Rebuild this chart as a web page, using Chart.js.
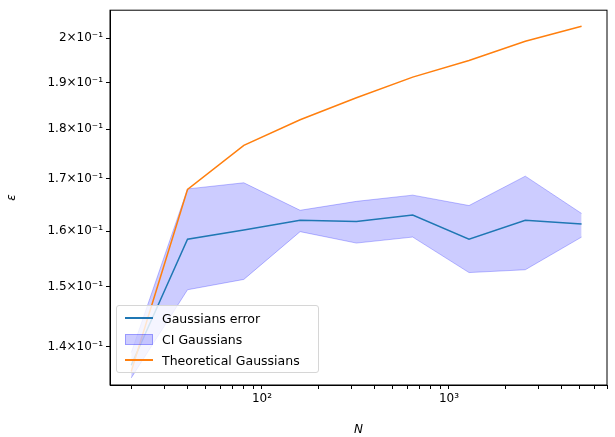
<!DOCTYPE html>
<html><head><meta charset="utf-8">
<script src="https://cdn.jsdelivr.net/npm/chart.js@4"></script>
<style>
body{margin:0;background:#fff;font-family:"DejaVu Sans";}
#wrap{position:relative;width:615px;height:437px;}
#leg{position:absolute;left:116px;top:305px;width:201px;height:66px;border:1px solid #d6d6d6;border-radius:3px;background:rgba(255,255,255,0.8);font-size:12.5px;color:#000;}
.row{position:absolute;left:8px;height:18px;display:flex;align-items:center;}
.sw{width:28px;margin-right:9px;}
</style></head><body>
<div id="wrap"><canvas id="c" width="615" height="437"></canvas>
<div id="leg">
<div class="row" style="top:3px"><div class="sw" style="border-top:2px solid #1f77b4"></div>Gaussians error</div>
<div class="row" style="top:24px"><div class="sw" style="height:9px;background:rgba(0,0,255,0.2);border:1px solid rgba(0,0,255,0.25);width:26px"></div>CI Gaussians</div>
<div class="row" style="top:45px"><div class="sw" style="border-top:2px solid #ff7f0e"></div>Theoretical Gaussians</div>
</div></div>
<script>
const N=[20,40,80,160,320,640,1280,2560,5120];
const errG=[0.137,0.1585,0.1602,0.162,0.1618,0.163,0.1585,0.162,0.1613];
const ciUp=[0.139,0.168,0.1692,0.1639,0.1656,0.1668,0.1648,0.1705,0.1633];
const ciLo=[0.135,0.1495,0.1513,0.1599,0.1578,0.1589,0.1525,0.153,0.1589];
const theo=[0.136,0.1679,0.1767,0.182,0.1867,0.1912,0.1949,0.1993,0.2028];
const yTicks=[0.14,0.15,0.16,0.17,0.18,0.19,0.2];
const yLabels=["1.4×10⁻¹","1.5×10⁻¹","1.6×10⁻¹","1.7×10⁻¹","1.8×10⁻¹","1.9×10⁻¹","2×10⁻¹"];
const xMinor=[20,30,40,50,60,70,80,90,100,200,300,400,500,600,700,800,900,1000,2000,3000,4000,5000,6000,7000];
const pts=a=>a.map((v,i)=>({x:N[i],y:v}));
new Chart(document.getElementById('c'),{type:'line',
data:{datasets:[
{label:'lo',data:pts(ciLo),borderColor:'rgba(0,0,255,0.25)',borderWidth:1,pointRadius:0,fill:false,order:3},
{label:'CI Gaussians',data:pts(ciUp),borderColor:'rgba(0,0,255,0.25)',borderWidth:1,backgroundColor:'rgba(0,0,255,0.2)',pointRadius:0,fill:'-1',order:3},
{label:'Gaussians error',data:pts(errG),borderColor:'#1f77b4',borderWidth:1.5,pointRadius:0,order:2},
{label:'Theoretical Gaussians',data:pts(theo),borderColor:'#ff7f0e',borderWidth:1.5,pointRadius:0,order:1}
]},
options:{responsive:false,animation:false,layout:{padding:{top:10,right:8,left:5,bottom:0}},
plugins:{legend:{display:false},tooltip:{enabled:false}},
scales:{
x:{type:'logarithmic',min:15.4,max:7000,grid:{display:true,drawOnChartArea:false,tickLength:4,color:'#000'},border:{color:'#000'},
 afterBuildTicks:s=>{s.ticks=xMinor.map(v=>({value:v}));},
 ticks:{autoSkip:false,maxRotation:0,color:'#000',font:{family:'DejaVu Sans',size:12},callback:v=>v===100?'10²':v===1000?'10³':''},
 title:{display:true,text:'N',color:'#000',padding:{top:0,bottom:0},font:{family:'DejaVu Sans',size:12,style:'italic'}},
 afterFit:s=>{s.height=52;}},
y:{type:'logarithmic',min:0.1339,max:0.2066,grid:{display:true,drawOnChartArea:false,tickLength:4,color:'#000'},border:{color:'#000'},
 afterBuildTicks:s=>{s.ticks=yTicks.map(v=>({value:v}));},
 ticks:{autoSkip:false,color:'#000',font:{family:'DejaVu Sans',size:12},callback:(v,i)=>yLabels[yTicks.indexOf(v)]??''},
 title:{display:true,text:'ε',color:'#000',padding:{top:0,bottom:0},font:{family:'DejaVu Sans',size:12,style:'italic'}},
 afterFit:s=>{s.width=105;}}
}},
plugins:[{id:'box',afterDraw(c){const a=c.chartArea,x=c.ctx;x.save();x.strokeStyle='#000';x.lineWidth=1;x.strokeRect(a.left,a.top,a.right-a.left,a.bottom-a.top);x.restore();}}]
});
</script></body></html>
